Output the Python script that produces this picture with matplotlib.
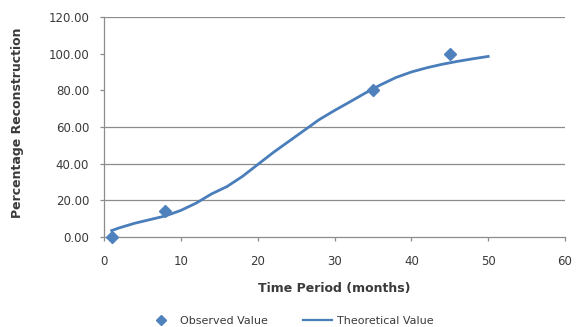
import matplotlib
matplotlib.use("Agg")
import matplotlib.pyplot as plt
from matplotlib.lines import Line2D

plt.rcParams['font.family'] = ['DejaVu Sans']

# Observed reconstruction percentages
obs_months = [1, 8, 35, 45]
obs_values = [0.0, 14.0, 80.0, 100.0]

# Theoretical reconstruction curve
theo_months = [1, 2, 4, 6, 8, 10, 12, 14, 16, 18, 20, 22, 24, 26,
               28, 30, 32, 34, 36, 38, 40, 42, 44, 46, 48, 50]
theo_values = [3.5, 5.0, 7.5, 9.5, 11.5, 14.5, 18.5, 23.5, 27.5, 33.0,
               39.5, 46.0, 52.0, 58.0, 64.0, 69.0, 73.7, 78.5, 83.0,
               87.0, 90.0, 92.3, 94.2, 95.8, 97.2, 98.5]

x_ticks = [0, 10, 20, 30, 40, 50, 60]
y_ticks = [0, 20, 40, 60, 80, 100, 120]
grid_levels = [20, 40, 60, 120]

marker_color = '#4F81BD'
line_color = '#4A7EBB'
axis_color = '#8C8C8C'
text_color = '#3A3A3A'

fig = plt.figure(figsize=(5.76, 3.27), dpi=100)
ax = fig.add_axes([104/576, 1 - 237/327, (565 - 104)/576, (237 - 17)/327])

for lvl in grid_levels:
    ax.axhline(lvl, color=axis_color, lw=0.9, zorder=0)

ax.plot(theo_months, theo_values, color=line_color, lw=2.0, zorder=2)
ax.plot(obs_months, obs_values, linestyle='none', marker='D', ms=6,
        color=marker_color, zorder=3, clip_on=False)

ax.set_xlim(0, 60)
ax.set_ylim(0, 120)
ax.set_xticks(x_ticks)
ax.set_yticks(y_ticks)
ax.set_yticklabels([f"{v:.2f}" for v in y_ticks])

for side in ['top', 'right']:
    ax.spines[side].set_visible(False)
for side in ['left', 'bottom']:
    ax.spines[side].set_color(axis_color)
    ax.spines[side].set_linewidth(0.9)

ax.tick_params(axis='both', direction='out', length=3, width=0.9,
               color=axis_color, labelcolor=text_color, labelsize=8.5)
ax.tick_params(axis='x', pad=10)
ax.tick_params(axis='y', pad=7.7)

ax.set_xlabel('Time Period (months)', fontsize=9, fontweight='bold',
              color=text_color)
ax.set_ylabel('Percentage Reconstruction', fontsize=9, fontweight='bold',
              color=text_color)
ax.xaxis.set_label_coords(0.499, -0.205)
ax.yaxis.set_label_coords(-0.1735, 0.52)

handles = [
    Line2D([], [], linestyle='none', marker='D', ms=5, color=marker_color),
    Line2D([], [], color=line_color, lw=1.6),
]
fig.legend(handles, ['Observed Value', 'Theoretical Value'],
           loc='center', bbox_to_anchor=(290/576, 1 - 321/327), ncol=2,
           frameon=False, fontsize=8, labelcolor=text_color,
           handlelength=2.6, handletextpad=0.4, columnspacing=3.2)

fig.savefig('out.png', dpi=100)
